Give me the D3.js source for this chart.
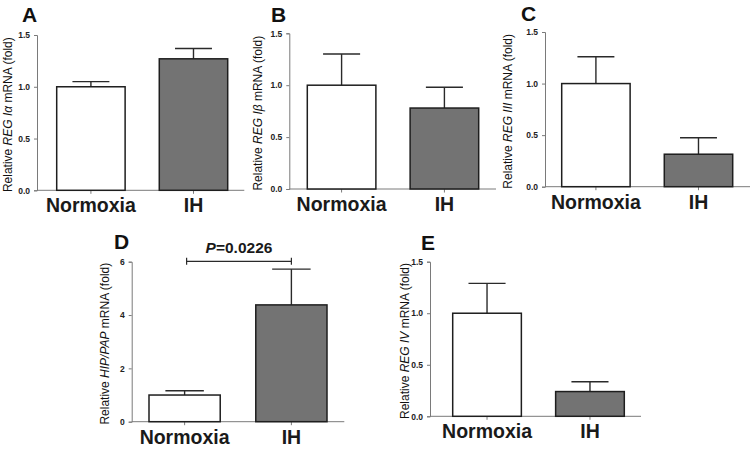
<!DOCTYPE html>
<html>
<head>
<meta charset="utf-8">
<script src="https://cdn.jsdelivr.net/npm/d3@7"></script>
<style>
  body { margin: 0; background: #fff; }
  svg { display: block; font-family: "Liberation Sans", Arial, sans-serif; }
</style>
</head>
<body>
<svg id="fig" width="750" height="451"></svg>
<script>
// values (mean, upper SEM)
const groups = ["Normoxia", "IH"];
const regIaMean = [1.0, 1.27];
const regIaErr = [0.05, 0.10];
const regIbMean = [1.0, 0.78];
const regIbErr = [0.30, 0.20];
const regIIIMean = [1.0, 0.315];
const regIIIErr = [0.26, 0.16];
const hipPapMean = [1.0, 4.38];
const hipPapErr = [0.16, 1.34];
const regIVMean = [1.0, 0.24];
const regIVErr = [0.29, 0.095];
const ticksSmall = [0, 0.5, 1.0, 1.5];
const ticksD = [0, 2, 4, 6];
const pText = "0.0226";

const svg = d3.select("#fig");

// layout of each panel (pixels), data passed in by name
const panels = [
    { letter: "A", lx: 22, ly: 22, mean: regIaMean, err: regIaErr, max: 1.5, ticks: ticksSmall, fmt: ".1f",
      axis: [37, 244.3], bars: [56.7, 227.7], y: [190.3, 35], labX: 12,
      gene: "REG I\u03b1", after: " mRNA (fold)" },
    { letter: "B", lx: 271, ly: 22, mean: regIbMean, err: regIbErr, max: 1.5, ticks: ticksSmall, fmt: ".1f",
      axis: [289.3, 496], bars: [307.3, 478.7], y: [189, 33.3], labX: 261.5,
      gene: "REG I\u03b2", after: " mRNA (fold)" },
    { letter: "C", lx: 521, ly: 21, mean: regIIIMean, err: regIIIErr, max: 1.5, ticks: ticksSmall, fmt: ".1f",
      axis: [545, 750], bars: [561.7, 732.7], y: [186.7, 32], labX: 511.5,
      gene: "REG III", after: " mRNA (fold)" },
    { letter: "D", lx: 114, ly: 249, mean: hipPapMean, err: hipPapErr, max: 6, ticks: ticksD, fmt: "d",
      axis: [131.7, 344.3], bars: [149, 327], y: [421.7, 261.7], labX: 109,
      gene: "HIP/PAP", after: " mRNA (fold)", sig: true },
    { letter: "E", lx: 421, ly: 250, mean: regIVMean, err: regIVErr, max: 1.5, ticks: ticksSmall, fmt: ".1f",
      axis: [430, 641], bars: [452.7, 624.3], y: [416.3, 261.7], labX: 409,
      gene: "REG IV", after: "  mRNA (fold)" }
];

panels.forEach(drawPanel);

function drawPanel(p) {
    const g = svg.append("g");

    const x = d3.scaleBand()
        .domain(groups)
        .range(p.bars)
        .paddingInner(0.333)
        .paddingOuter(0);

    const y = d3.scaleLinear()
        .domain([0, p.max])
        .range(p.y);

    const rows = groups.map((k, i) => ({ key: k, mean: p.mean[i], err: p.err[i], i: i }));

    // y axis
    const yAxis = g.append("g")
        .attr("transform", `translate(${p.axis[0]},0)`)
        .call(d3.axisLeft(y).tickValues(p.ticks).tickFormat(d3.format(p.fmt)).tickSize(3).tickPadding(4));
    yAxis.select(".domain").attr("stroke", "#7a7a7a").attr("stroke-width", 1);
    yAxis.selectAll(".tick line").attr("stroke", "#7a7a7a");
    yAxis.selectAll(".tick text")
        .attr("font-size", 8.5)
        .attr("font-weight", "bold")
        .attr("fill", "#222");

    // x axis
    const xAxis = g.append("g")
        .attr("transform", `translate(0,${p.y[0]})`);
    xAxis.append("line")
        .attr("x1", p.axis[0]).attr("x2", p.axis[1])
        .attr("stroke", "#7a7a7a").attr("stroke-width", 1);
    xAxis.selectAll(".xt")
        .data(groups)
        .join("line")
        .attr("class", "xt")
        .attr("x1", d => x(d) + x.bandwidth() / 2)
        .attr("x2", d => x(d) + x.bandwidth() / 2)
        .attr("y1", 0).attr("y2", 3.5)
        .attr("stroke", "#7a7a7a");
    xAxis.selectAll(".xl")
        .data(groups)
        .join("text")
        .attr("class", "xl")
        .attr("x", d => x(d) + x.bandwidth() / 2)
        .attr("y", 22)
        .attr("text-anchor", "middle")
        .attr("font-size", 19.5)
        .attr("font-weight", "bold")
        .attr("fill", "#1a1a1a")
        .text(d => d);

    // error bars (upper only), drawn under the bars
    const cap = x.bandwidth() * 0.27;
    g.selectAll(".eb")
        .data(rows)
        .join("line")
        .attr("class", "eb")
        .attr("x1", d => x(d.key) + x.bandwidth() / 2)
        .attr("x2", d => x(d.key) + x.bandwidth() / 2)
        .attr("y1", d => y(d.mean))
        .attr("y2", d => y(d.mean + d.err))
        .attr("stroke", "#2a2a2a").attr("stroke-width", 1.4);
    g.selectAll(".cap")
        .data(rows)
        .join("line")
        .attr("class", "cap")
        .attr("x1", d => x(d.key) + x.bandwidth() / 2 - cap)
        .attr("x2", d => x(d.key) + x.bandwidth() / 2 + cap)
        .attr("y1", d => y(d.mean + d.err))
        .attr("y2", d => y(d.mean + d.err))
        .attr("stroke", "#2a2a2a").attr("stroke-width", 1.4);

    // bars
    g.selectAll(".bar")
        .data(rows)
        .join("rect")
        .attr("class", "bar")
        .attr("x", d => x(d.key))
        .attr("y", d => y(d.mean))
        .attr("width", x.bandwidth())
        .attr("height", d => y(0) - y(d.mean))
        .attr("fill", d => d.i === 0 ? "#ffffff" : "#737373")
        .attr("stroke", "#1e1e1e")
        .attr("stroke-width", 1.5);

    // y label
    const cy = (p.y[0] + p.y[1]) / 2 + 2;
    const lab = g.append("text")
        .attr("transform", `translate(${p.labX},${cy}) rotate(-90)`)
        .attr("text-anchor", "middle")
        .attr("font-size", 12)
        .attr("fill", "#111");
    lab.append("tspan").text("Relative ");
    lab.append("tspan").attr("font-style", "italic").text(p.gene);
    lab.append("tspan").text(p.after);

    // panel letter
    g.append("text")
        .attr("x", p.lx).attr("y", p.ly)
        .attr("font-size", 21)
        .attr("font-weight", "bold")
        .attr("fill", "#111")
        .text(p.letter);

    if (p.sig) {
        const x1 = x(groups[0]) + x.bandwidth() / 2 + 2;
        const x2 = x(groups[1]) + x.bandwidth() / 2;
        const by = y(p.max) - 0.4;
        const br = g.append("g").attr("stroke", "#2a2a2a").attr("stroke-width", 1.2);
        br.append("line").attr("x1", x1).attr("x2", x2).attr("y1", by).attr("y2", by);
        br.append("line").attr("x1", x1).attr("x2", x1).attr("y1", by - 3.5).attr("y2", by + 3.5);
        br.append("line").attr("x1", x2).attr("x2", x2).attr("y1", by - 3.5).attr("y2", by + 3.5);
        const t = g.append("text")
            .attr("x", (x1 + x2) / 2).attr("y", by - 8)
            .attr("text-anchor", "middle")
            .attr("font-size", 15.5)
            .attr("font-weight", "bold")
            .attr("fill", "#1a1a1a");
        t.append("tspan").attr("font-style", "italic").text("P");
        t.append("tspan").text("=" + pText);
    }
}
</script>
</body>
</html>
